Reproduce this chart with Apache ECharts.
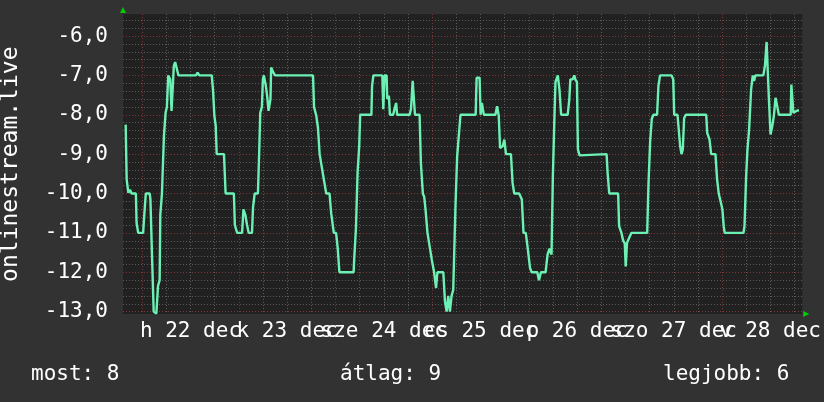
<!DOCTYPE html>
<html>
<head>
<meta charset="utf-8">
<script src="https://cdn.jsdelivr.net/npm/echarts@6/dist/echarts.min.js"></script>
<style>
html,body{margin:0;padding:0;background:#323232;}
#chart{width:824px;height:402px;}
</style>
</head>
<body>
<div id="chart"></div>
<script>
// hours relative to 2014-12-22 00:00, value
const traceDay1 = [[-4.09,-8.25],[-3.84,-9.64],[-3.43,-9.98],[-3.02,-9.9],[-2.61,-10.0],[-1.55,-10.0],[-1.38,-10.75],[-0.98,-11.0],[0.25,-11.0],[0.50,-10.6],[0.91,-10.0],[1.89,-10.0],[2.06,-10.15],[2.46,-11.6],[2.87,-13.0],[3.53,-13.05],[3.94,-12.35],[4.35,-12.2],[4.51,-10.55],[4.92,-10.0],[5.17,-10.0],[5.41,-8.55],[5.82,-7.95],[6.15,-7.8],[6.48,-7.0],[6.97,-7.1],[7.30,-7.9],[7.62,-7.9],[7.87,-6.76],[8.20,-6.66],[8.69,-6.66],[9.02,-7.0],[13.36,-7.0],[13.77,-6.93],[14.18,-7.0],[17.29,-7.0],[17.62,-7.4],[17.94,-8.03],[18.27,-8.28],[18.52,-9.0],[20.32,-9.0],[20.73,-10.0],[22.78,-10.0],[23.02,-10.8],[23.59,-11.0],[24.82,-11.0],[25.15,-10.4],[25.64,-10.55],[26.05,-10.8],[26.46,-11.0],[27.28,-11.0],[27.53,-10.36],[27.94,-10.0],[28.75,-10.0],[29.08,-8.9],[29.33,-7.95],[29.74,-7.8],[29.98,-7.1],[30.23,-7.0],[30.72,-7.27],[31.05,-7.53],[31.38,-7.9],[31.87,-7.6],[32.03,-6.8],[32.60,-6.93],[33.01,-7.0],[42.43,-7.0],[42.68,-7.8],[43.25,-8.03],[43.66,-8.33],[44.07,-9.0],[44.48,-9.0],[45.13,-9.65],[45.71,-10.0],[46.53,-10.0],[46.94,-10.5],[47.59,-11.0],[48.16,-11.0],[48.57,-11.4],[48.98,-12.0]];
const traceDay2 = [[52.51,-12.0],[52.67,-11.64],[53.08,-10.9],[53.49,-9.47],[53.90,-8.8],[54.14,-8.0],[56.93,-8.0],[57.09,-7.27],[57.42,-7.0],[59.63,-7.0],[59.88,-7.86],[60.20,-7.0],[60.70,-7.0],[60.86,-7.6],[61.27,-7.52],[61.52,-8.0],[62.33,-8.0],[62.66,-7.85],[63.07,-7.7],[63.32,-8.0],[66.43,-8.0],[66.76,-7.85],[67.17,-7.14],[67.58,-7.16],[67.74,-8.0],[68.89,-8.0],[69.21,-9.22],[69.70,-10.0],[70.03,-10.08],[70.36,-10.4],[70.85,-11.0],[71.34,-11.04],[71.92,-11.68],[72.49,-12.0],[72.98,-12.4],[73.31,-12.0],[74.78,-12.0],[75.19,-12.74],[75.60,-13.0],[76.01,-12.6],[76.42,-13.0],[76.83,-12.6],[77.24,-12.45],[77.81,-10.28],[78.22,-9.05],[78.71,-9.0],[79.04,-8.0],[82.81,-8.0],[83.05,-7.06],[83.79,-7.06],[84.04,-8.0],[84.36,-7.7],[84.61,-7.86],[84.86,-8.0],[87.72,-8.0],[88.13,-7.78],[88.54,-8.02],[88.87,-8.84],[89.52,-8.8],[89.93,-8.63],[90.34,-9.0],[91.57,-9.0],[91.98,-9.73],[92.39,-10.0],[93.62,-10.0],[94.28,-10.15],[94.69,-11.0],[95.26,-11.0],[95.75,-11.4],[96.32,-11.9],[96.73,-12.0],[98.12,-12.0],[98.53,-12.2],[99.02,-12.0],[100.17,-12.0],[100.66,-11.55],[101.15,-11.4],[101.65,-11.55],[101.98,-9.56],[102.31,-8.29],[102.63,-7.17],[103.21,-7.0],[103.62,-7.36],[104.03,-8.0],[105.66,-8.0]];
const traceDay3 = [[105.91,-8.0],[106.07,-7.6],[106.32,-7.1],[106.89,-7.1],[107.30,-7.0],[107.55,-7.1],[107.96,-7.17],[108.20,-8.88],[108.61,-9.03],[108.94,-9.0],[115.32,-9.0],[115.57,-9.47],[115.98,-10.0],[118.19,-10.0],[118.43,-10.83],[119.01,-11.0],[119.42,-11.19],[119.83,-11.27],[120.07,-11.85],[120.40,-11.25],[120.89,-11.2],[121.46,-11.0],[125.40,-11.0],[125.72,-9.77],[126.14,-8.67],[126.55,-8.1],[126.96,-8.0],[127.86,-8.0],[128.19,-7.27],[128.59,-7.0],[131.46,-7.0],[131.87,-7.1],[132.11,-8.0],[132.93,-8.0],[133.26,-7.97],[133.59,-8.8],[133.92,-9.0],[134.24,-8.88],[134.57,-8.09],[134.98,-8.0],[140.06,-8.0],[140.30,-8.46],[140.88,-8.63],[141.29,-9.0],[142.35,-9.0],[142.76,-9.64],[143.17,-10.0],[143.58,-10.0],[144.07,-10.4],[144.40,-10.83],[144.65,-11.0],[149.31,-11.0],[149.56,-10.83],[149.97,-9.56],[150.30,-8.88],[150.71,-8.37],[151.20,-7.36],[151.61,-7.0],[151.94,-7.14],[152.26,-7.0],[154.23,-7.0],[154.64,-6.76],[155.05,-6.15],[155.38,-6.15],[155.62,-7.6],[156.03,-8.5],[156.45,-8.29],[156.86,-8.02],[157.27,-7.57],[157.68,-7.78],[158.09,-8.0],[161.03,-8.0],[161.20,-7.23],[161.44,-7.27],[161.69,-7.95],[162.18,-8.0],[162.67,-7.89],[163.08,-7.89]];

const dayLabels = ['h 22 dec','k 23 dec','sze 24 dec','cs 25 dec','p 26 dec','szo 27 dec','v 28 dec'];
const unitTitle = 'onlinestream.live';
const statNames = ['most','átlag','legjobb'];
const statValues = [8, 9, 6];

const FONT = '"DejaVu Sans Mono", monospace';
const RED = '#7a3636';
const GRAY = '#5a5a5a';
const NONE = 'rgba(0,0,0,0)';

// x: ticks every 15 min starting at -4.75h; cycle of 96 ticks per day
const xMin = -4.75, xMax = 163.9, xStep = 0.25;
const xColors = [];
for (let i = 0; i < 96; i++) {
  const h = ((xMin + i * xStep) % 24 + 24) % 24;
  xColors.push(Math.abs(h) < 1e-6 ? RED : (Math.abs(h % 6) < 1e-6 ? GRAY : NONE));
}
// y: ticks every 0.02 starting at -13.06; cycle of 50 per unit
const yMin = -13.06, yMax = -5.44, yStep = 0.02;
const yColors = [];
for (let i = 0; i < 50; i++) {
  const k = Math.round((yMin + i * yStep) * 50);
  const m = ((k % 50) + 50) % 50;
  yColors.push(m === 0 ? RED : (m % 10 === 0 ? GRAY : NONE));
}

const chart = echarts.init(document.getElementById('chart'), null, {renderer: 'canvas'});
const graphics = [{
  type: 'text', x: 10.7, y: 164.2, rotation: Math.PI / 2,
  style: {text: unitTitle, font: '23px ' + FONT, fill: '#ffffff', align: 'center', verticalAlign: 'middle'}
}];
const statX = [31, 340, 663];
statNames.forEach((n, i) => {
  graphics.push({type: 'text', x: statX[i], y: 374.7,
    style: {text: n + ': ' + statValues[i], font: '21px ' + FONT, fill: '#ffffff', align: 'left', verticalAlign: 'middle'}});
});

chart.setOption({
  animation: false,
  backgroundColor: '#323232',
  grid: {left: 123, right: 14.7, top: 14, bottom: 88, show: true, backgroundColor: '#212121', borderWidth: 0},
  xAxis: {
    type: 'value', min: xMin, max: xMax, interval: xStep,
    axisLine: {show: true, onZero: false, lineStyle: {color: '#00cc00', width: 0}, symbol: ['none', 'triangle'], symbolSize: [6, 6], symbolOffset: [0, 4]},
    axisTick: {show: false},
    splitLine: {show: true, lineStyle: {color: xColors, width: 1, type: [1, 2]}},
    axisLabel: {
      color: '#ffffff', fontFamily: FONT, fontSize: 21, margin: 7,
      formatter: function (v) {
        const q = Math.round(v * 4);
        if (q >= 0 && (q - 48) % 96 === 0) {
          const d = (q - 48) / 96;
          return dayLabels[d] || '';
        }
        return '';
      }
    }
  },
  yAxis: {
    type: 'value', min: yMin, max: yMax, interval: yStep,
    axisLine: {show: true, onZero: false, lineStyle: {color: '#00cc00', width: 0}, symbol: ['none', 'triangle'], symbolSize: [6, 6], symbolOffset: [0, 4]},
    axisTick: {show: false},
    splitLine: {show: true, lineStyle: {color: yColors, width: 1, type: [1, 2]}},
    axisLabel: {
      color: '#ffffff', fontFamily: FONT, fontSize: 21, margin: 15,
      formatter: function (v) {
        const k = Math.round(v * 50);
        if (k % 50 === 0) return (k / 50).toFixed(1).replace('.', ',');
        return '';
      }
    }
  },
  graphic: graphics,
  series: [{
    type: 'line',
    data: traceDay1.concat(traceDay2, traceDay3),
    showSymbol: false,
    symbol: 'none',
    lineStyle: {color: '#6cf0b4', width: 2.4},
    clip: true
  }]
});
</script>
</body>
</html>
